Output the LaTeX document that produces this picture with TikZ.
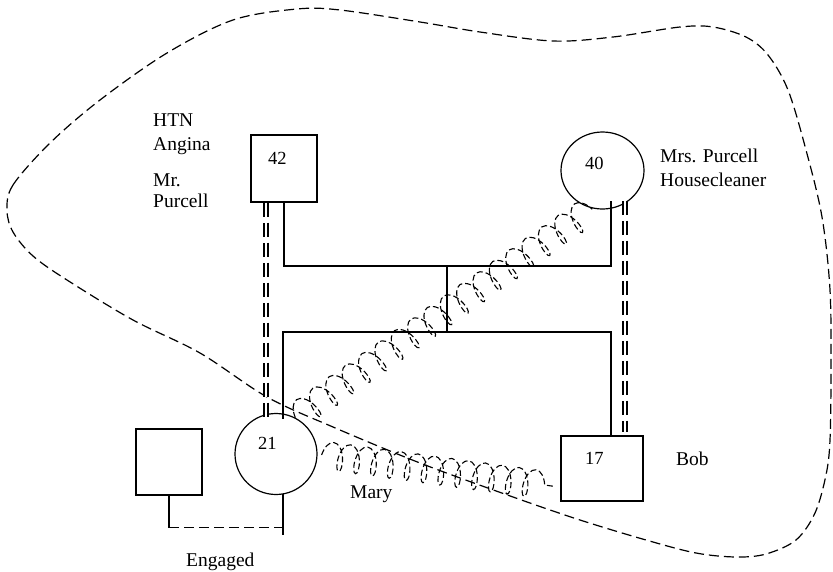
\documentclass[tikz,border=0pt]{standalone}
\usepackage{fontspec}
\setmainfont{Liberation Serif}
\newfontfamily\tnr{Liberation Serif}
\usetikzlibrary{shapes.geometric,decorations.pathmorphing,calc}
\begin{document}
\begin{tikzpicture}[x=1pt,y=-1pt,
  sqbox/.style={draw,line width=1.2pt,inner sep=0pt,rectangle},
  oval/.style={draw,line width=1.2pt,inner sep=0pt,ellipse},
  txt/.style={font=\tnr\fontsize{19.5}{22}\selectfont,inner sep=0pt,anchor=base west},
  numtxt/.style={font=\tnr\fontsize{18.5}{22}\selectfont,inner sep=0pt,anchor=base west},
  link/.style={line width=1.2pt},
  twin/.style={double,double distance=2.4pt,line width=1.4pt,dash pattern=on 14pt off 6pt},
  coilline/.style={line width=1.1pt,dash pattern=on 6pt off 3pt,decorate,
     decoration={coil,amplitude=14pt,segment length=#1,aspect=0.45}},
  blob/.style={line width=1.2pt,dash pattern=on 10pt off 5pt},
  engdash/.style={line width=1.2pt,dash pattern=on 10pt off 5pt}]
\useasboundingbox (0,0) rectangle (833,571);

% boundary
\draw[blob] plot[smooth cycle,tension=0.55] coordinates {
 (7,210) (13,185) (50,143) (100,100) (167,53) (233,20) (297,9) (340,10)
 (420,22) (480,32) (553,41) (613,37) (680,27) (713,27) (746,37) (768,55)
 (788,90) (806,150) (822,217) (830,290) (831,370) (830,440) (826,475)
 (815,513) (796,540) (766,554) (736,557) (696,553) (646,540) (580,520)
 (513,497) (420,463) (333,427) (267,397) (200,353) (133,320) (67,280)
 (33,256) (13,232)};

% persons
\node[sqbox,minimum width=66pt,minimum height=67pt] (b42) at (284,168.5) {};
\node[oval,minimum width=83pt,minimum height=77pt] (c40) at (602.5,170.5) {};
\node[oval,minimum width=82pt,minimum height=81pt] (c21) at (276,454) {};
\node[sqbox,minimum width=82pt,minimum height=65pt] (b17) at (602,468.5) {};
\node[sqbox,minimum width=66pt,minimum height=66pt] (bx) at (169,462) {};

\node[numtxt] (n42) at (268,164) {42};
\node[numtxt] (n40) at (585,169) {40};
\node[numtxt] (n17) at (585,464) {17};
\node[numtxt] (n21) at (258,449) {21};

% family lines
\coordinate (mate) at (447,266);
\coordinate (sib) at (447,332);
\draw[link] (b42.south) |- (mate) -| ($(c40.south)+(8.5,-9)$);
\draw[link] (mate) -- (sib);
\draw[link] ($(c21.north)+(7,6)$) |- (sib) -| ($(b17.north)+(9,0)$);

% close relationships
\draw[twin] ($(b42.south)+(-18,0)$) -- ($(c21.north)+(-10,4.5)$);
\draw[twin] ($(c40.south)+(22.5,-9)$) -- ($(b17.north)+(23,-3)$);

% engaged
\draw[link] (bx.south) -- ++(0,32) coordinate (eng);
\draw[link] ($(c21.south)+(7,-1)$) coordinate (c21b) -- ++(0,41);
\draw[engdash] (eng) -- (eng -| c21b);

% conflict
\draw[coilline=20pt] (c21.62) -- (c40.255);
\draw[coilline=17pt] ($(c21.east)+(4,1)$) -- ($(b17.west)+(-5,18)$);

% labels
\node[txt] (tHTN) at (153,126) {HTN};
\node[txt] (tAng) at (153,150) {Angina};
\node[txt] (tMr) at (153,186) {Mr.};
\node[txt] (tPur) at (153,207) {Purcell};
\node[txt] (tMrs) at (660,162) {Mrs. Purcell};
\node[txt] (tHouse) at (660,186) {Housecleaner};
\node[txt] (tBob) at (676,465) {Bob};
\node[txt] (tMary) at (350,498) {Mary};
\node[txt] (tEng) at (186,566) {Engaged};
\end{tikzpicture}
\end{document}
